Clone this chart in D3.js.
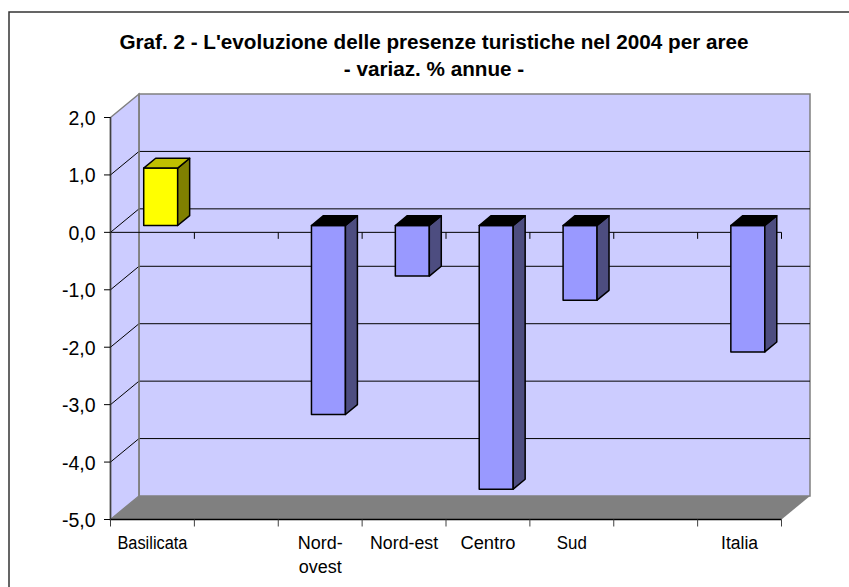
<!DOCTYPE html>
<html>
<head>
<meta charset="utf-8">
<script src="https://cdn.jsdelivr.net/npm/d3@7/dist/d3.min.js"></script>
<style>
html, body { margin: 0; padding: 0; background: #fff; overflow: hidden; }
svg { display: block; }
text { font-family: "Liberation Sans", Arial, sans-serif; fill: #000; }
</style>
</head>
<body>
<div class="container"></div>
<script>
const categories = ['Basilicata', '', 'Nord-ovest', 'Nord-est', 'Centro', 'Sud', '', 'Italia'];
const values = [1.0, null, -3.29, -0.88, -4.59, -1.3, null, -2.2];
const yTicks = [2, 1, 0, -1, -2, -3, -4, -5];
const titleLines = ["Graf. 2 - L'evoluzione delle presenze turistiche nel 2004 per aree", '- variaz. % annue -'];

const width = 849,
    height = 587,
    depth = { x: 28.5, y: -23.5 },
    barDepth = { start: 0.29, end: 0.71 };

// the original labels are wider or narrower than Liberation at the same height
const labelFit = { 'Basilicata': 70, 'Nord-': 45, 'ovest': 43, 'Nord-est': 68, 'Centro': 55, 'Sud': 30, 'Italia': 37 };

const svg = d3.select('.container')
    .append('svg')
    .attr('width', width)
    .attr('height', height);

const x = d3.scaleBand()
    .domain(d3.range(categories.length))
    .range([110.5, 781.5]);

const y = d3.scaleLinear()
    .domain([2, -5])
    .range([117.5, 519.5]);

const line = d3.line();
const fmt = d => d3.format('.1f')(d).replace('.', ',').replace('−', '-');

// outer frame, open on the right and cut at the bottom
svg.append('path')
    .attr('d', line([[9, height], [9, 12], [width, 12]]))
    .attr('fill', 'none')
    .attr('stroke', '#333')
    .attr('stroke-width', 1.5);

const [x0, x1] = x.range();
const [yTop, yBottom] = y.range();

// walls and floor
svg.append('path')
    .attr('d', line([[x0 + depth.x, yTop + depth.y], [x1 + depth.x, yTop + depth.y], [x1 + depth.x, yBottom + depth.y], [x0 + depth.x, yBottom + depth.y]]) + 'Z')
    .attr('fill', '#ccccff')
    .attr('stroke', '#808080')
    .attr('stroke-width', 1.5);

svg.append('path')
    .attr('d', line([[x0, yTop], [x0 + depth.x, yTop + depth.y], [x0 + depth.x, yBottom + depth.y], [x0, yBottom]]) + 'Z')
    .attr('fill', '#ccccff')
    .attr('stroke', '#808080')
    .attr('stroke-width', 1.5);

svg.append('path')
    .attr('d', line([[x0, yBottom], [x0 + depth.x, yBottom + depth.y], [x1 + depth.x, yBottom + depth.y], [x1, yBottom]]) + 'Z')
    .attr('fill', '#808080');

// gridlines, running back along the side wall and across the back wall
svg.append('g')
    .selectAll('path')
    .data(yTicks.filter(d => d !== 2 && d !== -5))
    .enter()
    .append('path')
    .attr('d', d => line([[x0, y(d)], [x0 + depth.x, y(d) + depth.y], [x1 + depth.x, y(d) + depth.y]]))
    .attr('fill', 'none')
    .attr('stroke', '#000')
    .attr('stroke-width', 1);

// back corner edge sits over the gridlines
svg.append('line')
    .attr('x1', x0 + depth.x).attr('x2', x0 + depth.x)
    .attr('y1', yTop + depth.y).attr('y2', yBottom + depth.y)
    .attr('stroke', '#808080')
    .attr('stroke-width', 1.5);

// category axis on the zero line
const zeroAxis = svg.append('g');
zeroAxis.append('line')
    .attr('x1', x0).attr('x2', x1)
    .attr('y1', y(0)).attr('y2', y(0))
    .attr('stroke', '#000');
zeroAxis.selectAll('.tick')
    .data(d3.range(categories.length + 1))
    .enter()
    .append('line')
    .attr('x1', d => x0 + d * x.step()).attr('x2', d => x0 + d * x.step())
    .attr('y1', y(0)).attr('y2', y(0) + 6.5)
    .attr('stroke', '#000');

// bars
function faces(i, v) {
    const w = x.bandwidth() * 0.405,
        left = x(i) + (x.bandwidth() - w) / 2 + depth.x * barDepth.start,
        right = left + w,
        sx = depth.x * (barDepth.end - barDepth.start),
        sy = depth.y * (barDepth.end - barDepth.start),
        off = depth.y * barDepth.start,
        top = y(Math.max(v, 0)) + off,
        bottom = y(Math.min(v, 0)) + off;
    return {
        front: [[left, top], [right, top], [right, bottom], [left, bottom]],
        side: [[right, top], [right + sx, top + sy], [right + sx, bottom + sy], [right, bottom]],
        cap: [[left, top], [left + sx, top + sy], [right + sx, top + sy], [right, top]]
    };
}

const bars = svg.append('g')
    .selectAll('g')
    .data(values.map((v, i) => ({ v, i })).filter(d => d.v !== null))
    .enter()
    .append('g')
    .attr('stroke', '#000')
    .attr('stroke-width', 1.5)
    .attr('stroke-linejoin', 'round');

bars.append('path')
    .attr('d', d => line(faces(d.i, d.v).front) + 'Z')
    .attr('fill', d => d.v > 0 ? '#ffff00' : '#9999ff');
bars.append('path')
    .attr('d', d => line(faces(d.i, d.v).side) + 'Z')
    .attr('fill', d => d.v > 0 ? '#808000' : '#4d4d80');
bars.append('path')
    .attr('d', d => line(faces(d.i, d.v).cap) + 'Z')
    .attr('fill', d => d.v > 0 ? '#c0c000' : '#000');

// value axis
const yAxis = svg.append('g');
yAxis.append('line')
    .attr('x1', x0).attr('x2', x0)
    .attr('y1', yTop).attr('y2', yBottom)
    .attr('stroke', '#404040')
    .attr('stroke-width', 1.5);
yAxis.selectAll('line.tick')
    .data(yTicks)
    .enter()
    .append('line')
    .attr('class', 'tick')
    .attr('x1', x0 - 6.5).attr('x2', x0)
    .attr('y1', d => y(d)).attr('y2', d => y(d))
    .attr('stroke', '#000');
yAxis.selectAll('text')
    .data(yTicks)
    .enter()
    .append('text')
    .attr('x', 95.5)
    .attr('y', d => y(d) + 7.5)
    .attr('text-anchor', 'end')
    .attr('font-size', 19.5)
    .text(fmt);

// floor front edge and its ticks
svg.append('line')
    .attr('x1', x0).attr('x2', x1)
    .attr('y1', yBottom).attr('y2', yBottom)
    .attr('stroke', '#000')
    .attr('stroke-width', 1.5);
svg.append('g')
    .selectAll('line')
    .data(d3.range(categories.length + 1))
    .enter()
    .append('line')
    .attr('x1', d => x0 + d * x.step()).attr('x2', d => x0 + d * x.step())
    .attr('y1', yBottom).attr('y2', yBottom + 7)
    .attr('stroke', '#404040');

// category labels, split at the hyphen only where the band is too narrow
svg.append('g')
    .selectAll('g')
    .data(categories.map((c, i) => ({ c, i })).filter(d => d.c))
    .enter()
    .append('g')
    .each(function(d) {
        const lines = d.c === 'Nord-ovest' ? ['Nord-', 'ovest'] : [d.c];
        d3.select(this).selectAll('text')
            .data(lines)
            .enter()
            .append('text')
            .attr('x', x(d.i) + x.bandwidth() / 2)
            .attr('y', (l, j) => 549 + j * 24)
            .attr('text-anchor', 'middle')
            .attr('font-size', 18)
            .attr('textLength', l => labelFit[l])
            .attr('lengthAdjust', 'spacingAndGlyphs')
            .text(l => l);
    });

// title
svg.append('g')
    .selectAll('text')
    .data(titleLines)
    .enter()
    .append('text')
    .attr('x', 434)
    .attr('y', (d, i) => 49 + i * 27)
    .attr('text-anchor', 'middle')
    .attr('font-size', 20.7)
    .attr('font-weight', 'bold')
    .text(d => d);
</script>
</body>
</html>
